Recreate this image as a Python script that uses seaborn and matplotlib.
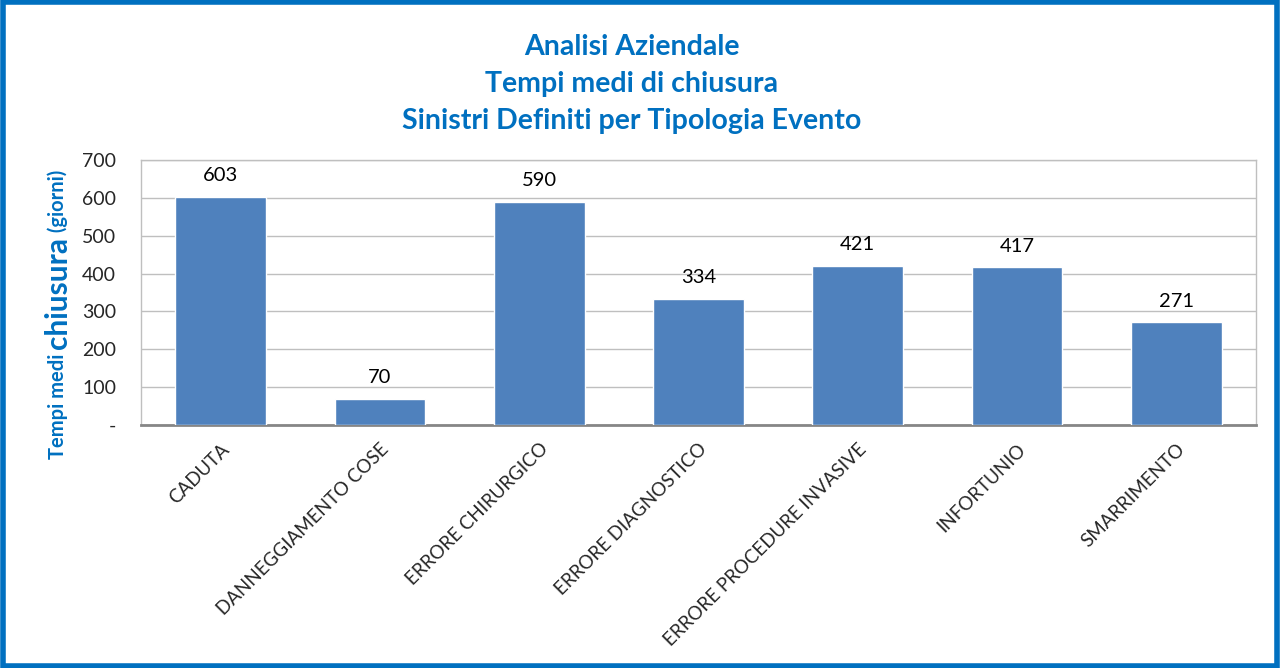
import matplotlib
matplotlib.use("Agg")
import matplotlib.pyplot as plt
import matplotlib.patches as patches
import seaborn as sns
import pandas as pd

categories = [
    "CADUTA", "DANNEGGIAMENTO COSE", "ERRORE CHIRURGICO", "ERRORE DIAGNOSTICO",
    "ERRORE PROCEDURE INVASIVE", "INFORTUNIO", "SMARRIMENTO",
]
giorni = [603, 70, 590, 334, 421, 417, 271]
y_ticks = [0, 100, 200, 300, 400, 500, 600, 700]
y_tick_labels = ["-", "100", "200", "300", "400", "500", "600", "700"]
title_lines = ["Analisi Aziendale", "Tempi medi di chiusura", "Sinistri Definiti per Tipologia Evento"]

BLUE_TXT = "#0070C0"
BAR = "#4F81BD"

sns.set_style("white")
plt.rcParams["font.family"] = ["Lato", "DejaVu Sans"]

df = pd.DataFrame({"categoria": categories, "giorni": giorni})

fig = plt.figure(figsize=(12.8, 6.68), dpi=100)
W, H = 1280, 668
ax = fig.add_axes([141 / W, 1 - 425 / H, (1256 - 141) / W, (425 - 160) / H])

sns.barplot(data=df, x="categoria", y="giorni", color=BAR, width=0.57,
            saturation=1, ax=ax, zorder=3)

ax.set_ylim(0, 700)
ax.set_xlim(-0.5, len(categories) - 0.5)
ax.set_yticks(y_ticks)
ax.set_yticklabels(y_tick_labels, fontsize=14)
ax.yaxis.grid(True, color="#BFBFBF", linewidth=1, zorder=0)
ax.tick_params(axis="y", length=0, pad=18)
ax.tick_params(axis="x", length=0, pad=11)
ax.set_xticks(range(len(categories)))
ax.set_xticklabels(categories, rotation=45, ha="right", rotation_mode="anchor",
                   fontsize=13.5)
ax.set_xlabel("")
ax.set_ylabel("")
for side in ["top", "right", "left"]:
    ax.spines[side].set_color("#BFBFBF")
    ax.spines[side].set_linewidth(1)
ax.spines["bottom"].set_color("#868686")
ax.spines["bottom"].set_linewidth(2)

for i, v in enumerate(giorni):
    ax.annotate(str(v), (i, v), xytext=(0, 9), textcoords="offset points",
                ha="center", va="bottom", fontsize=14.5, color="black")

# title
for k, line in enumerate(title_lines):
    fig.text(632 / W, 1 - (47 + 37 * k) / H, line, ha="center", va="center",
             fontsize=20.5, fontweight="bold", color=BLUE_TXT)

# y label with mixed sizes, chained bottom to top
renderer = fig.canvas.get_renderer()
xlab = 58 / W
ypos = 1 - 459 / H
for txt, size in [("Tempi medi ", 14.5), ("chiusura", 21.5), (" (giorni)", 14.5)]:
    t = fig.text(xlab, ypos, txt, rotation=90, ha="center", va="bottom",
                 fontsize=size, fontweight="bold", color=BLUE_TXT)
    bb = t.get_window_extent(renderer)
    ypos = bb.y1 / fig.bbox.height

# outer blue frame
fig.patches.append(patches.Rectangle((0.002, 0.003), 0.996, 0.994,
                                     transform=fig.transFigure, fill=False,
                                     edgecolor=BLUE_TXT, linewidth=4))

fig.savefig("out.png", dpi=100)
